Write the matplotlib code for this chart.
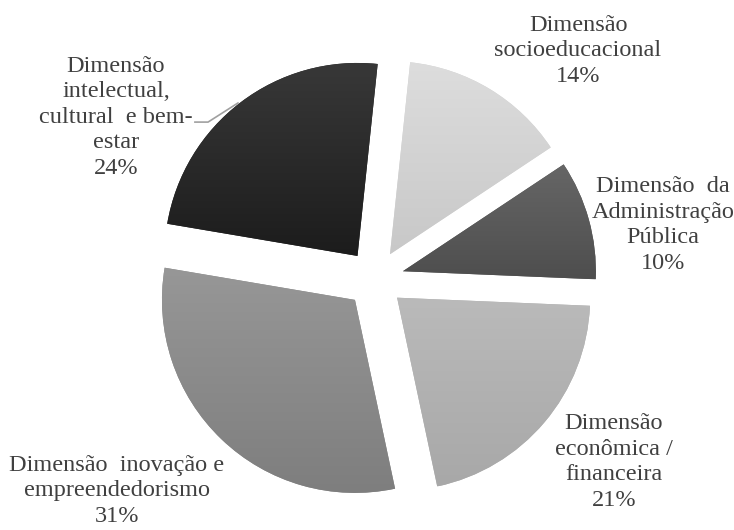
import matplotlib
matplotlib.use("Agg")
import matplotlib.pyplot as plt
import numpy as np
from matplotlib.colors import LinearSegmentedColormap

# ---------- dados ----------
dimensoes = [
    "Dimensão\nsocioeducacional",
    "Dimensão  da\nAdministração\nPública",
    "Dimensão\neconômica /\nfinanceira",
    "Dimensão  inovação e\nempreendedorismo",
    "Dimensão\nintelectual,\ncultural  e bem-\nestar",
]
percentuais = [14, 10, 21, 31, 24]
cores = ["#d3d3d3", "#5a5a5a", "#b2b2b2", "#8c8c8c", "#262626"]
# degradê vertical (topo, base) de cada fatia
cores_topo = ["#dddddd", "#666666", "#bababa", "#979797", "#383838"]
cores_base = ["#c8c8c8", "#4e4e4e", "#a8a8a8", "#7e7e7e", "#1c1c1c"]

# posições dos rótulos (em unidades do raio)
pos_rotulos = [(1.052, 1.182), (1.492, 0.280), (1.238, -0.948),
               (-1.337, -1.098), (-1.342, 0.839)]

plt.rcParams["font.family"] = ["Liberation Serif", "DejaVu Serif"]

fig = plt.figure(figsize=(7.34, 5.30), dpi=100)
ax = fig.add_axes([0, 0, 1, 1])

wedges, _ = ax.pie(percentuais, colors=cores, startangle=84, counterclock=False,
                   explode=[0.15] * len(percentuais), radius=1.0,
                   wedgeprops=dict(linewidth=0))

# degradê dentro de cada fatia
grad = np.linspace(0, 1, 256).reshape(-1, 1)
for w, c0, c1 in zip(wedges, cores_topo, cores_base):
    bb = w.get_path().get_extents(w.get_patch_transform())
    cmap = LinearSegmentedColormap.from_list("g", [c0, c1])
    im = ax.imshow(grad, cmap=cmap, aspect="auto", origin="upper",
                   extent=[bb.x0, bb.x1, bb.y0, bb.y1], zorder=w.get_zorder() + 0.1)
    im.set_clip_path(w)

for nome, pct, (x, y) in zip(dimensoes, percentuais, pos_rotulos):
    ax.text(x, y, f"{nome}\n{pct}%", ha="center", va="center",
            multialignment="center", fontsize=17.5, color="#404040",
            linespacing=1.28)

# linha de chamada do rótulo "intelectual"
ax.plot([-0.933, -0.865, -0.710], [0.813, 0.813, 0.912],
        color="#a0a0a0", linewidth=1.2)

ax.set_xlim(-375 / 193, (734 - 375) / 193)
ax.set_ylim(-(530 - 279) / 193, 279 / 193)
ax.axis("off")

fig.savefig("out.png", dpi=100, facecolor="white")
